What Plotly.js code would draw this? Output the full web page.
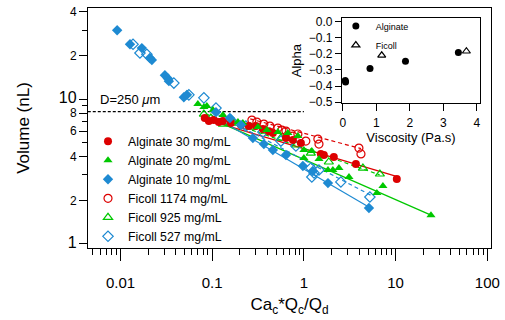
<!DOCTYPE html>
<html><head><meta charset="utf-8">
<script src="https://cdn.plot.ly/plotly-3.0.1.min.js"></script>
<style>body{margin:0;background:#fff}#chart{width:505px;height:320px}</style>
</head><body><div id="chart"></div>
<script>
// ---- main plot data (Ca_c*Q_c/Q_d, Volume nL) ----
const alg30X = [0.083,0.092,0.104,0.118,0.131,0.160,0.206,0.251,0.300,0.357,0.415,0.459,0.637,0.759,0.927,1.53,1.65,2.12,3.69,10.3];
const alg30Y = [7.40,7.05,7.16,6.94,7.05,6.83,6.62,6.51,6.51,6.21,6.01,5.83,5.38,5.22,4.97,4.18,4.11,3.98,3.56,2.81];
const alg20X = [0.053,0.0698,0.0875,0.0812,0.102,0.131,0.191,0.216,0.315,0.395,0.520,0.669,0.860,1.00,1.22,1.00,1.46,1.83,2.07,2.41,3.10,6.25,7.27,24.3];
const alg20Y = [10.8,9.24,8.95,8.81,8.40,7.76,6.94,6.83,6.41,6.11,5.92,5.83,5.56,4.45,4.38,3.92,3.86,3.24,3.24,3.34,2.90,2.25,2.51,1.58];
const alg10X = [0.0092,0.0127,0.0171,0.0209,0.0220,0.0305,0.0329,0.0337,0.0491,0.0530,0.110,0.156,0.206,0.278,0.366,0.459,0.637,0.975,1.25,1.83,5.12];
const alg10Y = [29.9,23.9,22.5,19.2,18.6,14.6,13.9,13.3,10.3,10.7,8.13,7.40,6.62,5.38,4.89,4.45,4.11,3.45,3.19,2.63,1.77];
const fic1174X = [0.271,0.307,0.366,0.426,0.520,0.575,0.637,0.759,0.860,1.05,1.42,1.46,3.98,4.19];
const fic1174Y = [7.16,6.94,6.72,6.51,6.31,6.11,6.02,5.56,5.74,5.13,5.30,4.89,4.59,4.18];
const fic925X = [0.0812,0.0968,0.131,0.172,0.264,0.385,0.561,0.818,1.19,1.87,4.40,6.74];
const fic925Y = [7.88,7.40,6.72,6.83,6.41,6.01,5.38,4.82,4.24,3.68,3.34,3.04];
const fic527X = [0.0137,0.0163,0.0194,0.0382,0.0557,0.0812,0.110,0.160,0.233,0.357,0.561,0.818,1.19,1.29,1.22,1.46,2.53,5.24];
const fic527Y = [23.9,20.8,20.4,12.9,10.7,10.2,8.67,7.16,6.51,5.92,5.13,4.74,3.34,3.09,2.90,3.24,2.68,2.11];
// fit lines (end points)
const fitAlg30X = [0.085,10.0], fitAlg30Y = [7.25,2.94];
const fitAlg20X = [0.085,24.3], fitAlg20Y = [7.6,1.58];
const fitAlg10X = [0.1,5.1], fitAlg10Y = [7.7,1.8];
const fitFic1174X = [0.26,4.2], fitFic1174Y = [7.3,4.55];
const fitFic925X = [0.085,6.7], fitFic925Y = [7.9,3.0];
const fitFic527X = [0.1,5.5], fitFic527Y = [8.2,2.15];
// D = 250 um reference line
const refX = [0.0044,1.0], refY = [8.2,8.2];
// ---- inset data (viscosity Pa.s, alpha) ----
const insAlgX = [0.07,0.08,0.81,1.87,3.45];
const insAlgY = [-0.365,-0.375,-0.292,-0.247,-0.193];
const insFicX = [1.16,3.69];
const insFicY = [-0.21,-0.185];
// tick labels
const yTickVals = [1,2,4,6,8,10,20,40];
const yTickText = ['<span style="font-size:16px">1</span>','2','4','6','8','<span style="font-size:16px">10</span>','2','4'];
const yMinorVals = [3,5,7,9,30];
const xTickVals = [0.01,0.1,1,10,100];
const xTickText = ['0.01','0.1','1','10','100'];
const xMinorVals = [0.005,0.006,0.007,0.008,0.009,0.02,0.03,0.04,0.05,0.06,0.07,0.08,0.09,
  0.2,0.3,0.4,0.5,0.6,0.7,0.8,0.9,2,3,4,5,6,7,8,9,20,30,40,50,60,70,80,90];

const RED='#dd0000', GREEN='#00c800', BLUE='#1e8ad2';
const MS=8;
function pts(x,y,name,sym,col,open){
  return {x:x,y:y,name:name,type:'scatter',mode:'markers',xaxis:'x',yaxis:'y',
    marker:{symbol:sym,size:MS,color:col,line:{color:col,width:open?1.2:0}}};
}
function fit(x,y,col,dash){
  return {x:x,y:y,type:'scatter',mode:'lines',showlegend:false,hoverinfo:'skip',
    line:{color:col,width:1.2,dash:dash}};
}
const traces = [
  fit(refX,refY,'#000','3px,2px'),
  fit(fitAlg30X,fitAlg30Y,RED,'solid'),
  fit(fitAlg20X,fitAlg20Y,GREEN,'solid'),
  fit(fitAlg10X,fitAlg10Y,BLUE,'solid'),
  fit(fitFic1174X,fitFic1174Y,RED,'4px,3px'),
  fit(fitFic925X,fitFic925Y,GREEN,'4px,3px'),
  fit(fitFic527X,fitFic527Y,BLUE,'4px,3px'),
  pts(fic1174X,fic1174Y,'Ficoll 1174 mg/mL','circle-open',RED,true),
  pts(fic925X,fic925Y,'Ficoll 925 mg/mL','triangle-up-open',GREEN,true),
  pts(fic527X,fic527Y,'Ficoll 527 mg/mL','diamond-open',BLUE,true),
  pts(alg30X,alg30Y,'Alginate 30 mg/mL','circle',RED,false),
  pts(alg20X,alg20Y,'Alginate 20 mg/mL','triangle-up',GREEN,false),
  pts(alg10X,alg10Y,'Alginate 10 mg/mL','diamond',BLUE,false),
  {x:insAlgX,y:insAlgY,name:'Alginate',type:'scatter',mode:'markers',xaxis:'x2',yaxis:'y2',legend:'legend2',
    marker:{symbol:'circle',size:7,color:'#000'}},
  {x:insFicX,y:insFicY,name:'Ficoll',type:'scatter',mode:'markers',xaxis:'x2',yaxis:'y2',legend:'legend2',
    marker:{symbol:'triangle-up-open',size:7,color:'#000',line:{width:1.2,color:'#000'}}}
];
const rank = {'Alginate 30 mg/mL':1,'Alginate 20 mg/mL':2,'Alginate 10 mg/mL':3,'Ficoll 1174 mg/mL':4,'Ficoll 925 mg/mL':5,'Ficoll 527 mg/mL':6};
traces.forEach(t=>{ if(rank[t.name]) t.legendrank = rank[t.name]; });

const F = 'Liberation Sans, Arial, sans-serif';
const layout = {
  width:505,height:320,margin:{l:88,r:14,t:8,b:72},
  paper_bgcolor:'#fff',plot_bgcolor:'#fff',
  font:{family:F,color:'#000',size:13},
  showlegend:true,
  xaxis:{type:'log',range:[-2.354,2.040],domain:[0,1],anchor:'y',
    tickvals:xTickVals,ticktext:xTickText,ticks:'outside',ticklen:12,tickwidth:1,tickcolor:'#000',
    ticklabelstandoff:9,
    tickfont:{size:15},showgrid:false,zeroline:false,showline:true,linecolor:'#000',linewidth:1,mirror:true,
    minor:{tickmode:'array',tickvals:xMinorVals,ticks:'outside',ticklen:6,tickcolor:'#000',showgrid:false},
    title:{text:'Ca<sub>c</sub>*Q<sub>c</sub>/Q<sub>d</sub>',font:{size:17},standoff:8}},
  yaxis:{type:'log',range:[-0.028,1.629],domain:[0,1],anchor:'x',
    tickvals:yTickVals,ticktext:yTickText,ticks:'outside',ticklen:8,tickcolor:'#000',
    tickfont:{size:12},showgrid:false,zeroline:false,showline:true,linecolor:'#000',linewidth:1,mirror:true,
    minor:{tickmode:'array',tickvals:yMinorVals,ticks:'outside',ticklen:5,tickcolor:'#000',showgrid:false},
    title:{text:'Volume (nL)',font:{size:17},standoff:24}},
  xaxis2:{domain:[0.630,0.973],anchor:'y2',range:[-0.03,4.1],tickvals:[0,1,2,3,4],ticks:'outside',ticklen:7,
    ticklabelstandoff:2,
    tickcolor:'#000',tickfont:{size:12},showgrid:false,zeroline:false,showline:true,linecolor:'#000',mirror:true,
    title:{text:'Viscosity (Pa.s)',font:{size:13},standoff:3}},
  yaxis2:{domain:[0.604,0.958],anchor:'x2',range:[-0.505,0.02],tickvals:[0,-0.1,-0.2,-0.3,-0.4,-0.5],
    tickformat:'.1f',ticks:'outside',ticklen:6,tickcolor:'#000',tickfont:{size:12},showgrid:false,zeroline:false,
    showline:true,linecolor:'#000',mirror:true,title:{text:'Alpha',font:{size:13},standoff:4}},
  legend:{x:0.0,y:0.505,xanchor:'left',yanchor:'top',bgcolor:'rgba(0,0,0,0)',font:{size:12.3},
    traceorder:'normal',tracegroupgap:0},
  legend2:{x:0.615,y:0.985,xanchor:'left',yanchor:'top',bgcolor:'rgba(0,0,0,0)',font:{size:9},tracegroupgap:0},
  annotations:[{xref:'paper',yref:'paper',x:0.025,y:0.62,xanchor:'left',yanchor:'middle',showarrow:false,
    text:'D=250 <i>μ</i>m',font:{size:13}}]
};
Plotly.newPlot('chart',traces,layout,{staticPlot:true});
</script></body></html>
